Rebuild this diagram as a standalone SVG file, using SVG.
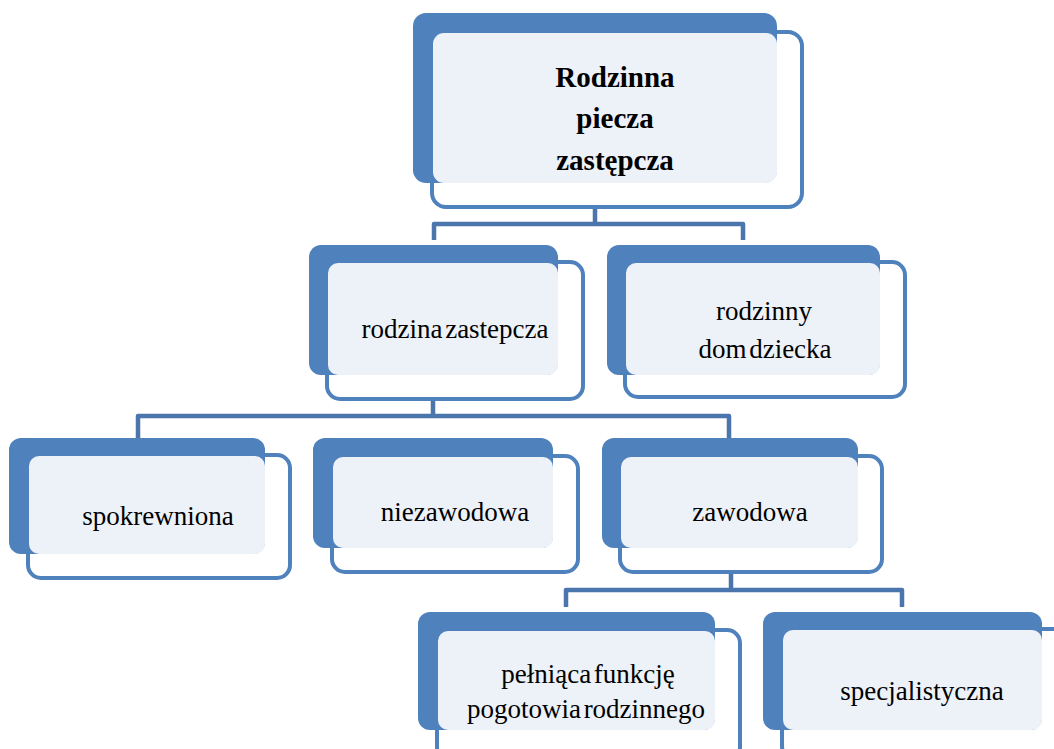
<svg xmlns="http://www.w3.org/2000/svg" width="1054" height="749" viewBox="0 0 1054 749">
<style>
.front{fill:#ffffff;fill-opacity:0.9;stroke:#4f81bd;stroke-width:4}
.back{fill:#4f81bd}
.panel{fill:#edf1f8}
.conn{fill:none;stroke:#4a76ad;stroke-width:4.5;stroke-linejoin:round}
text{font-family:'Liberation Serif','Times New Roman',serif;fill:#000;text-anchor:middle}
.t{font-size:27px;word-spacing:-4px}
.tb{font-size:29px;font-weight:bold}
</style>
<rect width="1054" height="749" fill="#ffffff"/>
<g id="connectors">
<path class="conn" d="M595,205 V224 M434,240 V224 H743 V240"/>
<path class="conn" d="M433,398 V416 M138,438 V416 H729 V438"/>
<path class="conn" d="M731,570 V590 M566,607 V590 H902 V607"/>
</g>
<g id="n_root">
<rect class="front" x="432" y="32" width="370" height="175" rx="14"/>
<rect class="back" x="413" y="13" width="364" height="170" rx="13"/>
<rect class="panel" x="433" y="33" width="344" height="150" rx="11"/>
<text class="tb" x="615" y="87">Rodzinna</text>
<text class="tb" x="615" y="128">piecza</text>
<text class="tb" x="615" y="170">zastępcza</text>
</g>
<g id="n_rodzina">
<rect class="front" x="327" y="262" width="256" height="137" rx="13"/>
<rect class="back" x="309" y="245" width="249" height="130" rx="12"/>
<rect class="panel" x="328" y="263" width="230" height="112" rx="10"/>
<text class="t" x="455" y="338">rodzina zastepcza</text>
</g>
<g id="n_dom">
<rect class="front" x="625" y="262" width="280" height="135" rx="13"/>
<rect class="back" x="607" y="245" width="273" height="130" rx="12"/>
<rect class="panel" x="626" y="263" width="254" height="112" rx="10"/>
<text class="t" x="764" y="320">rodzinny</text>
<text class="t" x="765" y="358">dom dziecka</text>
</g>
<g id="n_spokrewniona">
<rect class="front" x="28" y="455" width="262" height="123" rx="13"/>
<rect class="back" x="9" y="438" width="256" height="116" rx="12"/>
<rect class="panel" x="29" y="456" width="236" height="98" rx="10"/>
<text class="t" x="158" y="525">spokrewniona</text>
</g>
<g id="n_niezawodowa">
<rect class="front" x="332" y="456" width="246" height="116" rx="13"/>
<rect class="back" x="313" y="438" width="240" height="110" rx="12"/>
<rect class="panel" x="333" y="457" width="220" height="91" rx="10"/>
<text class="t" x="455" y="521">niezawodowa</text>
</g>
<g id="n_zawodowa">
<rect class="front" x="620" y="456" width="262" height="116" rx="13"/>
<rect class="back" x="602" y="438" width="256" height="110" rx="12"/>
<rect class="panel" x="621" y="457" width="237" height="91" rx="10"/>
<text class="t" x="750" y="521">zawodowa</text>
</g>
<g id="n_pelniaca">
<rect class="front" x="437" y="630" width="303" height="130" rx="13"/>
<rect class="back" x="418" y="612" width="297" height="118" rx="12"/>
<rect class="panel" x="438" y="631" width="277" height="99" rx="10"/>
<text class="t" x="588" y="683">pełniąca funkcję</text>
<text class="t" x="586" y="718">pogotowia rodzinnego</text>
</g>
<g id="n_specjalistyczna">
<rect class="front" x="782" y="629" width="290" height="130" rx="13"/>
<rect class="back" x="763" y="612" width="279" height="118" rx="12"/>
<rect class="panel" x="783" y="630" width="259" height="100" rx="10"/>
<text class="t" x="922" y="700">specjalistyczna</text>
</g>
</svg>
